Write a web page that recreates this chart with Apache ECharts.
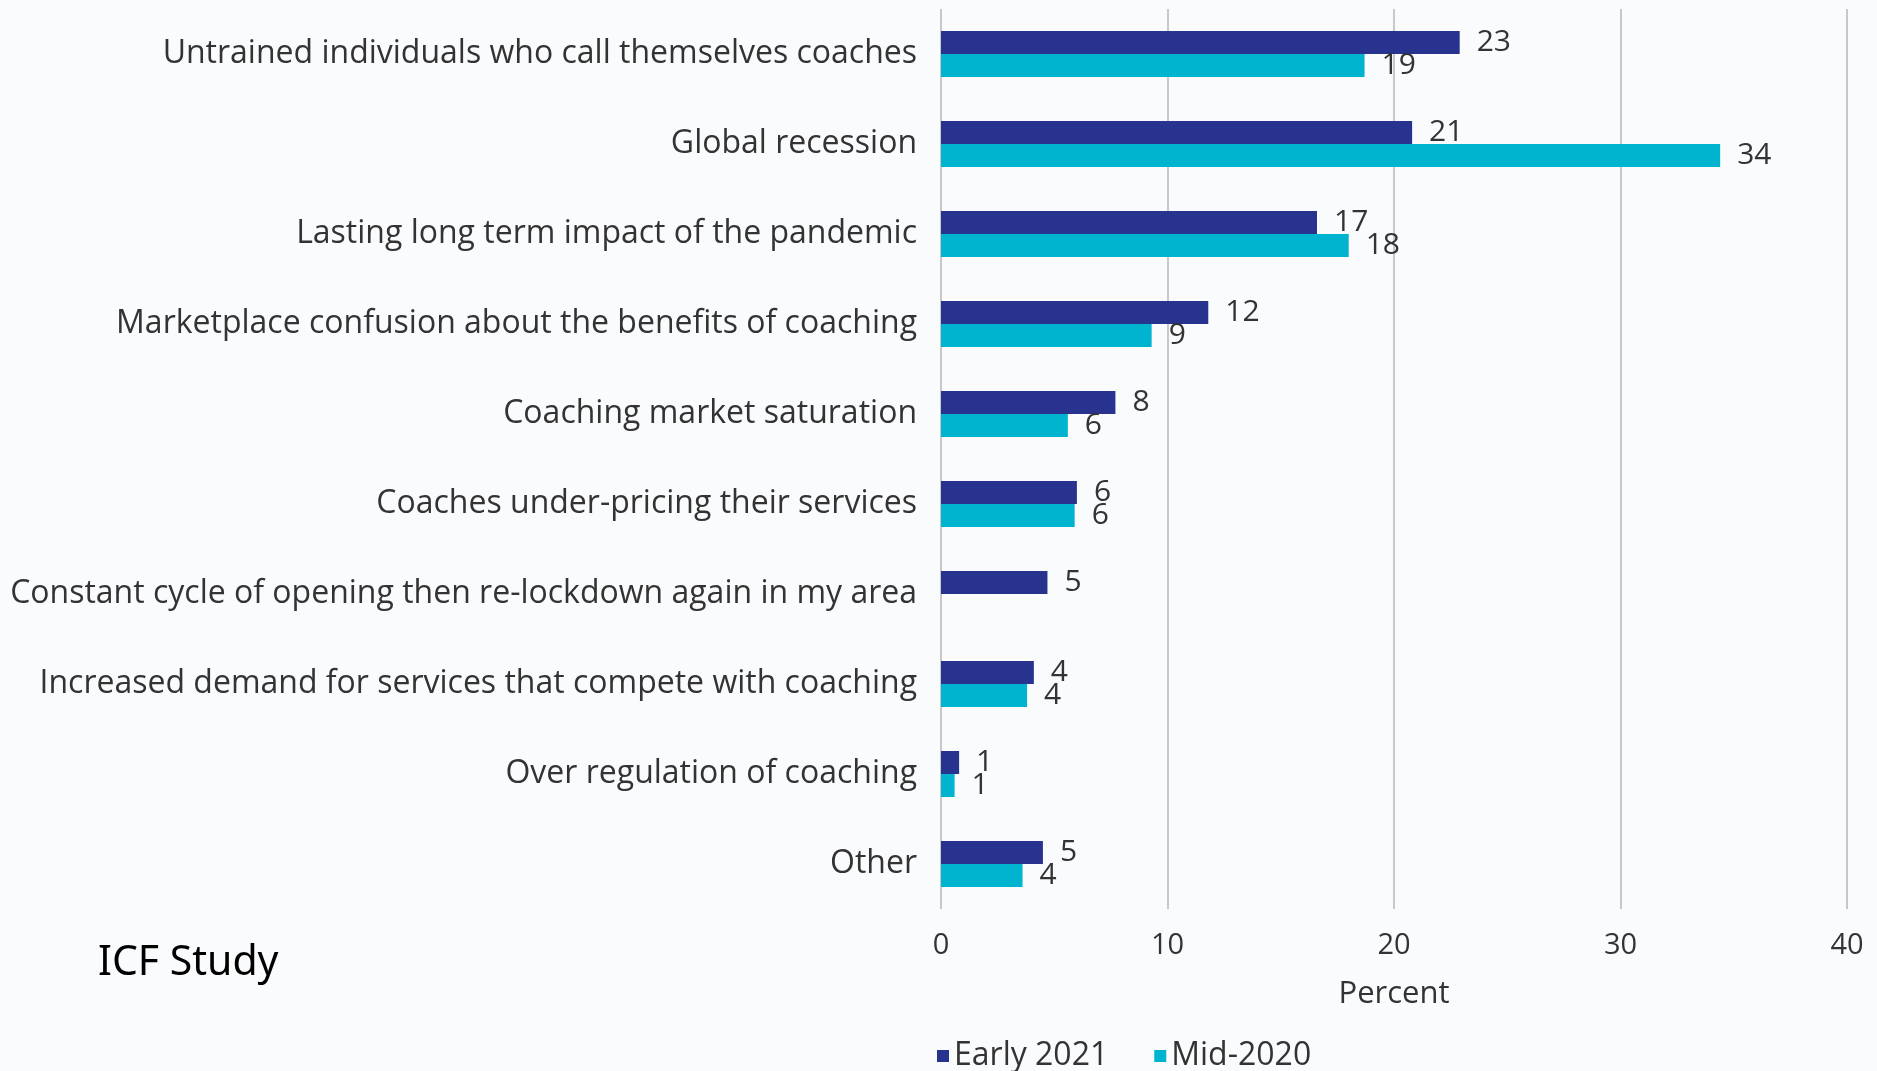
<!DOCTYPE html>
<html>
<head>
<meta charset="utf-8">
<script src="https://cdn.jsdelivr.net/npm/echarts@6/dist/echarts.min.js"></script>
<style>
    html, body { margin: 0; padding: 0; background: #fafbfd; }
    #chart { width: 1877px; height: 1071px; }
</style>
</head>
<body>
<div id="chart"></div>
<script>
// categories, top to bottom
var categories = [
    'Untrained individuals who call themselves coaches',
    'Global recession',
    'Lasting long term impact of the pandemic',
    'Marketplace confusion about the benefits of coaching',
    'Coaching market saturation',
    'Coaches under-pricing their services',
    'Constant cycle of opening then re-lockdown again in my area',
    'Increased demand for services that compete with coaching',
    'Over regulation of coaching',
    'Other'
];
// bar lengths
var early2021 = [22.9, 20.8, 16.6, 11.8, 7.7, 6.0, 4.7, 4.1, 0.8, 4.5];
var mid2020 = [18.7, 34.4, 18.0, 9.3, 5.6, 5.9, null, 3.8, 0.6, 3.6];
// printed labels
var early2021Labels = [23, 21, 17, 12, 8, 6, 5, 4, 1, 5];
var mid2020Labels = [19, 34, 18, 9, 6, 6, null, 4, 1, 4];
var seriesNames = ['Early 2021', 'Mid-2020'];
var colors = ['#28338f', '#00b3cf'];

var dom = echarts.init(document.getElementById('chart'));

function makeSeries(i, vals, labels) {
    return {
        name: seriesNames[i],
        type: 'bar',
        data: vals,
        barWidth: 23,
        barGap: '0%',
        itemStyle: { color: colors[i] },
        label: {
            show: true,
            position: 'right',
            distance: 17,
            color: '#333',
            fontSize: 30,
            fontFamily: 'Open Sans',
            formatter: function (p) { return labels[p.dataIndex] == null ? '' : labels[p.dataIndex]; }
        }
    };
}

var option = {
    backgroundColor: '#fafbfd',
    animation: false,
    grid: { left: 941, right: 30, top: 9, height: 900, containLabel: false },
    legend: {
        data: seriesNames,
        left: 932,
        top: 1035,
        icon: 'rect',
        itemWidth: 12,
        itemHeight: 12,
        itemGap: 46,
        textStyle: { color: '#333', fontSize: 32, fontFamily: 'Open Sans' }
    },
    graphic: [{
        type: 'text',
        left: 98,
        top: 943,
        style: { text: 'ICF Study', fill: '#000', font: '41px "Noto Sans"' }
    }],
    xAxis: {
        type: 'value',
        min: 0,
        max: 40,
        interval: 10,
        name: 'Percent',
        nameLocation: 'middle',
        nameGap: 70,
        nameTextStyle: { color: '#333', fontSize: 31, fontFamily: 'Open Sans' },
        axisLine: { show: false },
        axisTick: { show: false },
        axisLabel: { color: '#333', fontSize: 29, fontFamily: 'Open Sans', margin: 22 },
        splitLine: { show: true, lineStyle: { color: '#c8c8c8', width: 2 } }
    },
    yAxis: {
        type: 'category',
        inverse: true,
        data: categories,
        axisLine: { show: false },
        axisTick: { show: false },
        axisLabel: { color: '#333', fontSize: 32, fontFamily: 'Open Sans', margin: 24 }
    },
    series: [
        makeSeries(0, early2021, early2021Labels),
        makeSeries(1, mid2020, mid2020Labels)
    ]
};
dom.setOption(option);
</script>
</body>
</html>
